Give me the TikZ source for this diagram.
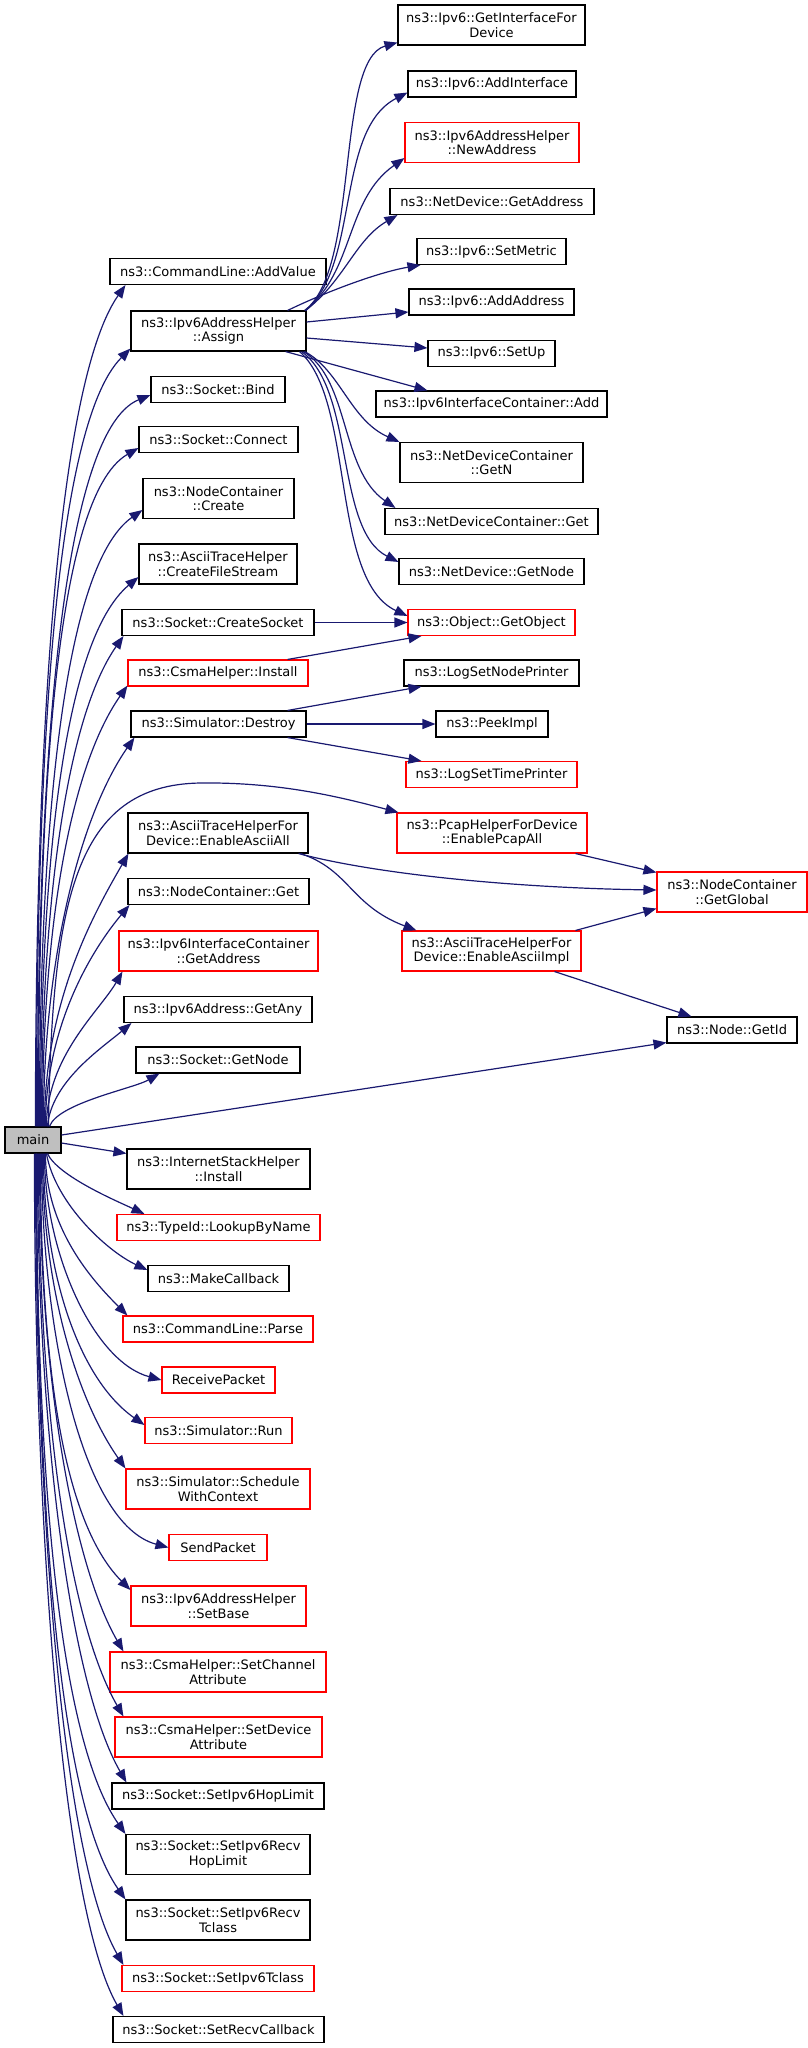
\documentclass[tikz,border=0pt]{standalone}
\usepackage{fontspec}
\setmainfont{DejaVu Sans}
\usetikzlibrary{arrows.meta}
\definecolor{edgec}{HTML}{191970}
\definecolor{redc}{HTML}{FF0000}
\definecolor{mainfill}{HTML}{BFBFBF}
\begin{document}
\begin{tikzpicture}[x=1pt,y=1pt,
  box/.style={draw=black, line width=1.1pt, rectangle, inner sep=0pt, minimum height=26pt, align=center, font=\fontsize{13}{14.6}\selectfont, fill=white},
  box2/.style={box, minimum height=40pt},
  redb/.style={draw=redc},
  edge/.style={draw=edgec, line width=1.2pt, -{Triangle[length=13pt,width=10pt]}},
]
\useasboundingbox (0,0) rectangle (808,-2048);

% ---------- right column ----------
\node[box2, minimum width=187pt] (ifdev) at (491.5,-25) {ns3::Ipv6::GetInterfaceFor\\Device};
\node[box, minimum width=168pt] (addif) at (492,-84) {ns3::Ipv6::AddInterface};
\node[box2, redb, minimum width=174pt] (newaddr) at (492,-142.5) {ns3::Ipv6AddressHelper\\::NewAddress};
\node[box, minimum width=204pt] (ndaddr) at (492,-201.5) {ns3::NetDevice::GetAddress};
\node[box, minimum width=149pt] (setmetric) at (491.5,-251.5) {ns3::Ipv6::SetMetric};
\node[box, minimum width=165pt] (addaddr) at (491.5,-302) {ns3::Ipv6::AddAddress};
\node[box, minimum width=127pt] (setup) at (491.5,-353.5) {ns3::Ipv6::SetUp};
\node[box, minimum width=231pt] (ifcadd) at (491.5,-404) {ns3::Ipv6InterfaceContainer::Add};
\node[box2, minimum width=183pt] (getn) at (491.5,-462.5) {ns3::NetDeviceContainer\\::GetN};
\node[box, minimum width=213pt] (ndcget) at (491.5,-521.5) {ns3::NetDeviceContainer::Get};
\node[box, minimum width=185pt] (ndnode) at (491.5,-571.5) {ns3::NetDevice::GetNode};
\node[box, redb, minimum width=167pt] (getobj) at (491.5,-622.5) {ns3::Object::GetObject};
\node[box, minimum width=175pt] (lognode) at (491.5,-673) {ns3::LogSetNodePrinter};
\node[box, minimum width=112pt] (peek) at (492,-724) {ns3::PeekImpl};
\node[box, redb, minimum width=171pt] (logtime) at (491.5,-774.5) {ns3::LogSetTimePrinter};
\node[box2, redb, minimum width=190pt] (pcap) at (492,-833) {ns3::PcapHelperForDevice\\::EnablePcapAll};
\node[box2, redb, minimum width=179pt] (asciiimpl) at (491.5,-951) {ns3::AsciiTraceHelperFor\\Device::EnableAsciiImpl};
\node[box2, redb, minimum width=150pt] (global) at (732,-892) {ns3::NodeContainer\\::GetGlobal};
\node[box, minimum width=130pt] (getid) at (732,-1030) {ns3::Node::GetId};

% ---------- middle column ----------
\node[box, minimum width=216pt] (addvalue) at (218,-271.5) {ns3::CommandLine::AddValue};
\node[box2, minimum width=175pt] (assign) at (218.5,-331) {ns3::Ipv6AddressHelper\\::Assign};
\node[box, minimum width=134pt] (bind) at (218,-389.5) {ns3::Socket::Bind};
\node[box, minimum width=159pt] (connect) at (218.5,-439.5) {ns3::Socket::Connect};
\node[box2, minimum width=151pt] (create) at (218.5,-498.5) {ns3::NodeContainer\\::Create};
\node[box2, minimum width=158pt] (cfs) at (218,-564) {ns3::AsciiTraceHelper\\::CreateFileStream};
\node[box, minimum width=192pt] (csock) at (218,-622.5) {ns3::Socket::CreateSocket};
\node[box, redb, minimum width=180pt] (csmainst) at (218,-673) {ns3::CsmaHelper::Install};
\node[box, minimum width=175pt] (destroy) at (218.5,-724) {ns3::Simulator::Destroy};
\node[box2, minimum width=180pt] (asciiall) at (218,-833) {ns3::AsciiTraceHelperFor\\Device::EnableAsciiAll};
\node[box, minimum width=181pt] (ncget) at (218.5,-891.5) {ns3::NodeContainer::Get};
\node[box2, redb, minimum width=199pt] (ifcaddr) at (218.5,-951) {ns3::Ipv6InterfaceContainer\\::GetAddress};
\node[box, minimum width=188pt] (getany) at (218,-1009.5) {ns3::Ipv6Address::GetAny};
\node[box, minimum width=164pt] (sgetnode) at (218,-1060) {ns3::Socket::GetNode};
\node[box2, minimum width=183pt] (ish) at (218.5,-1169) {ns3::InternetStackHelper\\::Install};
\node[box, redb, minimum width=203pt] (lookup) at (218.5,-1227.5) {ns3::TypeId::LookupByName};
\node[box, minimum width=141pt] (makecb) at (218.5,-1278.5) {ns3::MakeCallback};
\node[box, redb, minimum width=190pt] (parse) at (218,-1329) {ns3::CommandLine::Parse};
\node[box, redb, minimum width=113pt] (recv) at (218.5,-1380) {ReceivePacket};
\node[box, redb, minimum width=147pt] (run) at (218.5,-1430.5) {ns3::Simulator::Run};
\node[box2, redb, minimum width=184pt] (sched) at (218,-1489) {ns3::Simulator::Schedule\\WithContext};
\node[box, redb, minimum width=98pt] (send) at (218,-1547.5) {SendPacket};
\node[box2, redb, minimum width=175pt] (setbase) at (218.5,-1606) {ns3::Ipv6AddressHelper\\::SetBase};
\node[box2, redb, minimum width=216pt] (setchan) at (218,-1672) {ns3::CsmaHelper::SetChannel\\Attribute};
\node[box2, redb, minimum width=207pt] (setdev) at (218.5,-1737) {ns3::CsmaHelper::SetDevice\\Attribute};
\node[box, minimum width=212pt] (hoplim) at (218,-1796) {ns3::Socket::SetIpv6HopLimit};
\node[box2, minimum width=184pt] (recvhop) at (218,-1854.5) {ns3::Socket::SetIpv6Recv\\HopLimit};
\node[box2, minimum width=184pt] (recvtc) at (218,-1920) {ns3::Socket::SetIpv6Recv\\Tclass};
\node[box, redb, minimum width=192pt] (tclass) at (218,-1978.5) {ns3::Socket::SetIpv6Tclass};
\node[box, minimum width=211pt] (recvcb) at (218.5,-2029.5) {ns3::Socket::SetRecvCallback};

% ---------- main ----------
\node[box, fill=mainfill, minimum width=56pt] (main) at (33,-1140) {main};

% ---------- edges from main, upward ----------
\draw[edge] ([xshift=31]main.north west) to[out=90,in=235,out distance=380pt,in distance=120pt] ([xshift=16]addvalue.south west);
\draw[edge] ([xshift=32]main.north west) to[out=90,in=225,out distance=350pt,in distance=110pt] ([yshift=3]assign.south west);
\draw[edge] ([xshift=33]main.north west) to[out=90,in=202,out distance=330pt,in distance=100pt] ([yshift=-5.5]bind.west);
\draw[edge] ([xshift=34]main.north west) to[out=90,in=210,out distance=305pt,in distance=100pt] ([yshift=-8.5]connect.west);
\draw[edge] ([xshift=35]main.north west) to[out=90,in=215,out distance=280pt,in distance=100pt] ([yshift=-11.5]create.west);
\draw[edge] ([xshift=36]main.north west) to[out=90,in=220,out distance=250pt,in distance=100pt] ([yshift=-13]cfs.west);
\draw[edge] ([xshift=37]main.north west) to[out=90,in=235,out distance=220pt,in distance=100pt] ([xshift=2]csock.south west);
\draw[edge] ([xshift=38]main.north west) to[out=90,in=235,out distance=200pt,in distance=100pt] ([yshift=1]csmainst.south west);
\draw[edge] ([xshift=39]main.north west) to[out=90,in=235,out distance=175pt,in distance=90pt] ([xshift=4]destroy.south west);
\draw[edge] ([xshift=40]main.north west) to[out=90,in=240,out distance=125pt,in distance=70pt] ([xshift=1]asciiall.south west);
\draw[edge] ([xshift=41]main.north west) to[out=90,in=230,out distance=100pt,in distance=60pt] ([xshift=2]ncget.south west);
\draw[edge] ([xshift=42]main.north west) to[out=90,in=240,out distance=70pt,in distance=45pt] ([xshift=4]ifcaddr.south west);
\draw[edge] ([xshift=43]main.north west) to[out=85,in=220,out distance=45pt,in distance=40pt] ([xshift=8]getany.south west);
\draw[edge] ([xshift=45]main.north west) to[out=70,in=210,out distance=25pt,in distance=30pt] ([xshift=24]sgetnode.south west);
\draw[edge] ([xshift=44]main.north west) .. controls (52,-900) and (75,-785) .. (200,-783) .. controls (280,-782) and (340,-797) .. ([xshift=2]pcap.north west);

% ---------- edges from main, straight ----------
\draw[edge] ([yshift=5]main.east) -- ([yshift=1]getid.south west);
\draw[edge] ([yshift=-3]main.east) -- ([yshift=-5]ish.north west);

% ---------- edges from main, downward ----------
\draw[edge] ([xshift=43]main.south west) to[out=-65,in=155,out distance=25pt,in distance=30pt] ([xshift=28]lookup.north west);
\draw[edge] ([xshift=42]main.south west) to[out=-80,in=155,out distance=50pt,in distance=45pt] ([yshift=8.5]makecb.west);
\draw[edge] ([xshift=41]main.south west) to[out=-90,in=135,out distance=75pt,in distance=50pt] ([xshift=5]parse.north west);
\draw[edge] ([xshift=40]main.south west) to[out=-90,in=165,out distance=100pt,in distance=70pt] (recv.west);
\draw[edge] ([xshift=39]main.south west) to[out=-90,in=145,out distance=120pt,in distance=80pt] ([yshift=5.5]run.west);
\draw[edge] ([xshift=38]main.south west) to[out=-90,in=125,out distance=140pt,in distance=80pt] (sched.north west);
\draw[edge] ([xshift=37]main.south west) to[out=-90,in=165,out distance=175pt,in distance=90pt] (send.west);
\draw[edge] ([xshift=36]main.south west) to[out=-90,in=135,out distance=195pt,in distance=100pt] ([yshift=16]setbase.west);
\draw[edge] ([xshift=35]main.south west) to[out=-90,in=120,out distance=225pt,in distance=100pt] ([xshift=14]setchan.north west);
\draw[edge] ([xshift=34]main.south west) to[out=-90,in=120,out distance=255pt,in distance=110pt] ([xshift=9]setdev.north west);
\draw[edge] ([xshift=33]main.south west) to[out=-90,in=120,out distance=285pt,in distance=110pt] ([xshift=15]hoplim.north west);
\draw[edge] ([xshift=32]main.south west) to[out=-90,in=125,out distance=305pt,in distance=120pt] (recvhop.north west);
\draw[edge] ([xshift=32]main.south west) to[out=-90,in=125,out distance=335pt,in distance=120pt] (recvtc.north west);
\draw[edge] ([xshift=31]main.south west) to[out=-90,in=120,out distance=365pt,in distance=120pt] ([xshift=2]tclass.north west);
\draw[edge] ([xshift=30]main.south west) to[out=-90,in=120,out distance=390pt,in distance=120pt] ([xshift=11]recvcb.north west);

% ---------- edges from Assign ----------
\draw[edge] ([xshift=-2]assign.north east) .. controls (360,-270) and (335,-60) .. ([yshift=3]ifdev.south west);
\draw[edge] ([xshift=-1]assign.north east) .. controls (360,-265) and (335,-130) .. ([yshift=5]addif.south west);
\draw[edge] ([xshift=-1]assign.north east) .. controls (355,-270) and (345,-200) .. ([yshift=5]newaddr.south west);
\draw[edge] ([xshift=-1]assign.north east) .. controls (345,-280) and (355,-240) .. ([xshift=8]ndaddr.south west);
\draw[edge] ([xshift=-19]assign.north east) .. controls (330,-290) and (380,-272) .. ([xshift=4]setmetric.south west);
\draw[edge] ([yshift=9]assign.east) -- ([yshift=-10]addaddr.west);
\draw[edge] ([yshift=-7]assign.east) -- ([yshift=5.5]setup.west);
\draw[edge] ([xshift=-21]assign.south east) -- ([xshift=52]ifcadd.north west);
\draw[edge] ([xshift=-2]assign.south east) .. controls (340,-370) and (350,-420) .. (getn.north west);
\draw[edge] ([xshift=-3]assign.south east) .. controls (350,-380) and (340,-470) .. ([xshift=11]ndcget.north west);
\draw[edge] ([xshift=-5]assign.south east) .. controls (355,-390) and (335,-530) .. ([yshift=-4]ndnode.north west);
\draw[edge] ([xshift=-7]assign.south east) .. controls (355,-400) and (330,-580) .. ([yshift=-7]getobj.north west);

% ---------- other edges ----------
\draw[edge] (csock.east) -- (getobj.west);
\draw[edge] ([xshift=-21]csmainst.north east) -- ([xshift=14]getobj.south west);
\draw[edge] ([xshift=-19]destroy.north east) -- ([xshift=18]lognode.south west);
\draw[edge] (destroy.east) -- (peek.west);
\draw[edge] ([xshift=-19]destroy.south east) -- ([xshift=16]logtime.north west);
\draw[edge] ([xshift=-10]asciiall.south east) .. controls (380,-875) and (520,-888) .. ([yshift=2]global.west);
\draw[edge] ([xshift=-8]asciiall.south east) .. controls (350,-870) and (350,-905) .. ([xshift=15]asciiimpl.north west);
\draw[edge] ([xshift=-12]pcap.south east) -- ([yshift=-1]global.north west);
\draw[edge] ([xshift=-6]asciiimpl.north east) -- ([yshift=4]global.south west);
\draw[edge] ([xshift=-27]asciiimpl.south east) -- ([xshift=25]getid.north west);
\end{tikzpicture}
\end{document}
